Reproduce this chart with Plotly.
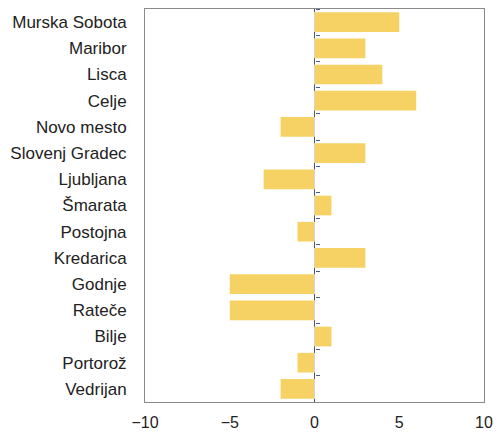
import plotly.graph_objects as go

stations = ["Murska Sobota", "Maribor", "Lisca", "Celje", "Novo mesto", "Slovenj Gradec",
            "Ljubljana", "Šmarata", "Postojna", "Kredarica", "Godnje", "Rateče",
            "Bilje", "Portorož", "Vedrijan"]
values = [5, 3, 4, 6, -2, 3, -3, 1, -1, 3, -5, -5, 1, -1, -2]
x_ticks = [-10, -5, 0, 5, 10]

fig = go.Figure()
fig.add_trace(go.Bar(
    x=values, y=stations, orientation="h",
    marker=dict(color="#F6D264", line=dict(width=0)),
    hoverinfo="x+y",
))
# invisible trace carrying the small ticks on the zero line
fig.add_trace(go.Bar(
    x=[0] * len(stations), y=stations, orientation="h", yaxis="y2",
    marker=dict(color="rgba(0,0,0,0)"), hoverinfo="skip", showlegend=False,
))
fig.update_layout(
    width=501, height=439,
    margin=dict(l=145, r=11, t=8, b=27, pad=0),
    paper_bgcolor="white", plot_bgcolor="white",
    bargap=0.25, showlegend=False, barmode="overlay",
    font=dict(family="Liberation Sans, Arial, sans-serif", size=17, color="#222222"),
    xaxis=dict(range=[-10, 10], tickvals=x_ticks, showgrid=False,
               zeroline=True, zerolinecolor="#555", zerolinewidth=1,
               showline=True, linecolor="#8a8a8a", linewidth=1, mirror="all",
               ticks="", ticklabelstandoff=6, tickfont=dict(size=16)),
    yaxis=dict(autorange="reversed", showgrid=False, type="category",
               showline=True, linecolor="#8a8a8a", linewidth=1, mirror="all", ticks="",
               ticklabelstandoff=14, tickfont=dict(size=17)),
    yaxis2=dict(overlaying="y", anchor="free", position=0.5, side="right",
                autorange="reversed", type="category", categoryorder="array",
                categoryarray=stations, tickson="boundaries",
                ticks="outside", ticklen=4, tickwidth=1, tickcolor="#4a5a8a",
                showticklabels=False, showgrid=False, showline=False, zeroline=False),
)
fig.write_html("out.html", config={"displayModeBar": False},
               post_script="document.body.style.margin='0';document.body.style.overflow='hidden';")
